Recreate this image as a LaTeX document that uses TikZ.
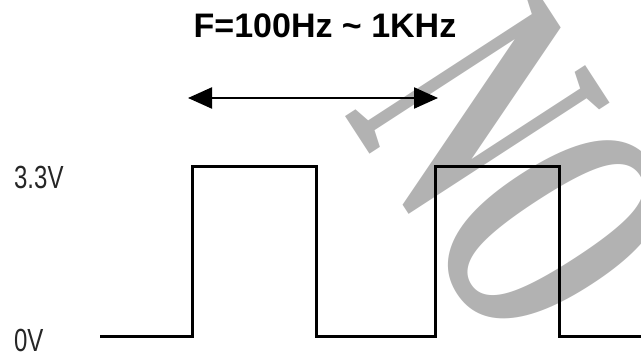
\documentclass[tikz,border=0pt]{standalone}
\usepackage{fontspec}
\usepackage{tikz}
\usetikzlibrary{arrows.meta}
\setmainfont{Liberation Sans}
\newfontfamily\wmfont{Liberation Serif}

\tikzset{
  wave/.style={line width=3pt, line join=miter},
  span/.style={line width=2.2pt, {Triangle[length=24pt,width=21pt]}-{Triangle[length=24pt,width=21pt]}},
  lvl/.style={anchor=west, inner sep=0pt, font=\fontsize{32}{32}\selectfont, xscale=0.75, text=black!85},
  wmark/.style={inner sep=0pt, text=black!30, font=\wmfont\bfseries\fontsize{350}{350}\selectfont}
}

\begin{document}
\begin{tikzpicture}[x=1pt,y=-1pt]
\useasboundingbox (0,0) rectangle (641,358);
\clip (0,0) rectangle (641,358);
%watermark
\node[wmark, rotate=-57, xscale=0.55] (wm) at (518,172) {NO};
%levels
\node[lvl] (hi) at (14,177) {3.3V};
\node[lvl] (lo) at (14,340) {0V};
%square wave
\coordinate (w0) at (100,337);
\coordinate (r1) at (192,337);
\coordinate (f1) at (316,167);
\coordinate (r2) at (435,337);
\coordinate (f2) at (559,167);
\coordinate (w1) at (645,337);
\draw[wave] (w0) -- (r1) |- (f1) |- (r2) |- (f2) |- (w1);
%period
\coordinate (pa) at (188,98);
\coordinate (pb) at (438,98);
\draw[span] (pa) -- (pb);
\node[font=\bfseries\fontsize{34}{34}\selectfont, inner sep=0pt] (freq) at (325,26) {F=100Hz \textasciitilde{} 1KHz};
\end{tikzpicture}
\end{document}
